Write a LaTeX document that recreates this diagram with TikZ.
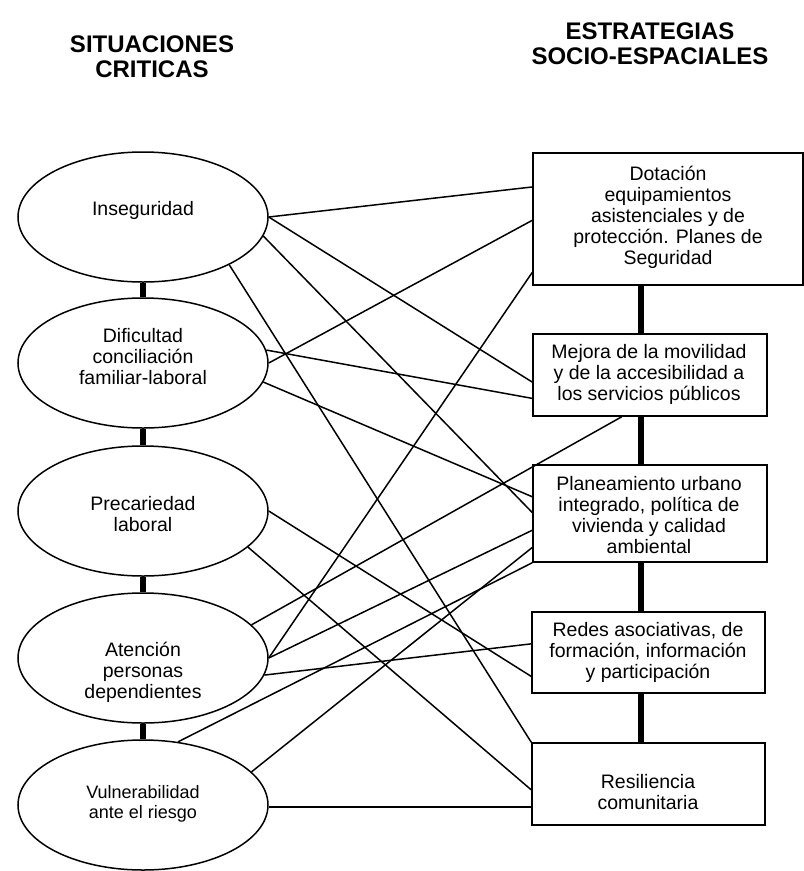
\documentclass[tikz,border=0pt]{standalone}
\usepackage{fontspec}
\setmainfont{Liberation Sans}
\usetikzlibrary{shapes.geometric,calc}
\begin{document}
\begin{tikzpicture}[x=1pt,y=-1pt,
  sit/.style={draw, ellipse, line width=1.5pt, minimum width=250pt, minimum height=130pt, inner sep=0pt},
  est/.style={draw, rectangle, line width=1.5pt, inner sep=0pt},
  txt/.style={align=center, font=\fontsize{19.5}{21}\selectfont, inner sep=0pt},
  smalltxt/.style={align=center, font=\fontsize{18}{20}\selectfont, inner sep=0pt},
  head/.style={align=center, font=\fontsize{24}{25}\selectfont\bfseries, inner sep=0pt},
  link/.style={line width=1.5pt},
  bar/.style={line width=6pt}]
\useasboundingbox (0,0) rectangle (804,871);

% titles
\node[head] (H1) at (152,57) {SITUACIONES\\CRITICAS};
\node[head] (H2) at (650,44) {ESTRATEGIAS\\SOCIO-ESPACIALES};

% left: ellipses
\node[sit] (E1) at (143,217) {};
\node[sit] (E2) at (143,363) {};
\node[sit] (E3) at (143,511) {};
\node[sit] (E4) at (143,658) {};
\node[sit] (E5) at (143,805) {};
\node[txt] (E1t) at (143,210) {Inseguridad};
\node[txt] (E2t) at (143,357) {Dificultad\\conciliación\\familiar-laboral};
\node[txt] (E3t) at (143,514) {Precariedad\\laboral};
\node[txt] (E4t) at (143,672) {Atención\\personas\\dependientes};
\node[smalltxt] (E5t) at (143,804) {Vulnerabilidad\\ante el riesgo};

% right: boxes
\node[est, minimum width=270pt, minimum height=132pt] (B1) at (668,219) {};
\node[est, minimum width=234pt, minimum height=82pt] (B2) at (650,375) {};
\node[est, minimum width=234pt, minimum height=97pt] (B3) at (650,513.5) {};
\node[est, minimum width=233pt, minimum height=81pt] (B4) at (648.5,652.5) {};
\node[est, minimum width=233pt, minimum height=82pt] (B5) at (648.5,784) {};
\node[txt] (B1t) at (668,217) {Dotación\\equipamientos\\asistenciales y de\\protección. Planes de\\Seguridad};
\node[txt] (B2t) at (649,374) {Mejora de la movilidad\\y de la accesibilidad a\\los servicios públicos};
\node[txt] (B3t) at (649,515) {Planeamiento urbano\\integrado, política de\\vivienda y calidad\\ambiental};
\node[txt] (B4t) at (648,652) {Redes asociativas, de\\formación, información\\y participación};
\node[txt] (B5t) at (648,792) {Resiliencia\\comunitaria};

% thick bars
\draw[bar] (E1.south) -- (E2.north);
\draw[bar] (E2.south) -- (E3.north);
\draw[bar] (E3.south) -- (E4.north);
\draw[bar] (E4.south) -- (E5.north);
\coordinate (rb) at (641,0);
\draw[bar] (B1.south -| rb) -- (B2.north -| rb);
\draw[bar] (B2.south -| rb) -- (B3.north -| rb);
\draw[bar] (B3.south -| rb) -- (B4.north -| rb);
\draw[bar] (B4.south -| rb) -- (B5.north -| rb);

% connectors
\draw[link] (E1.0) -- ($(B1.north west)!0.26!(B1.south west)$);
\draw[link] (E1.0) -- ($(B2.north west)!0.585!(B2.south west)$);
\draw[link] (E1.-9) -- ($(B3.north west)!0.49!(B3.south west)$);
\draw[link] (E1.-29) -- (B5.north west);
\draw[link] (E2.0) -- ($(B1.north west)!0.51!(B1.south west)$);
\draw[link] (E2.6) -- ($(B2.north west)!0.78!(B2.south west)$);
\draw[link] (E2.-9) -- ($(B3.north west)!0.33!(B3.south west)$);
\draw[link] (E3.0) -- ($(B4.north west)!0.79!(B4.south west)$);
\draw[link] (E3.-19) -- ($(B5.north west)!0.57!(B5.south west)$);
\draw[link] (E4.0) -- ($(B1.north west)!0.90!(B1.south west)$);
\draw[link] (E4.17) -- ($(B2.south west)!0.38!(B2.south east)$);
\draw[link] (E4.0) -- ($(B3.north west)!0.67!(B3.south west)$);
\draw[link] (E4.-8) -- ($(B4.north west)!0.395!(B4.south west)$);
\draw[link] (E5.61) -- (B3.south west);
\draw[link] (E5.17) -- ($(B3.north west)!0.845!(B3.south west)$);
\draw[link] (E5.-1.5) -- (E5.-1.5 -| B5.west);
\end{tikzpicture}
\end{document}
